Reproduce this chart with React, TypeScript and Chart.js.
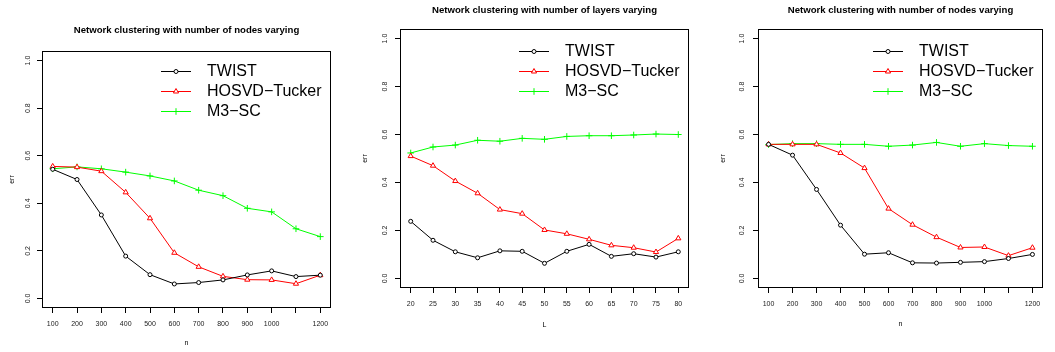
import React, { useEffect, useRef } from "react";
import { Chart, registerables } from "chart.js";

Chart.register(...registerables);

// ---------- data ----------
const nodesX = [100, 200, 300, 400, 500, 600, 700, 800, 900, 1000, 1100, 1200];
const nodesTickLabels = ["100", "200", "300", "400", "500", "600", "700", "800", "900", "1000", "", "1200"];
const layersX = [20, 25, 30, 35, 40, 45, 50, 55, 60, 65, 70, 75, 80];
const layersTickLabels = ["20", "25", "30", "35", "40", "45", "50", "55", "60", "65", "70", "75", "80"];
const yTicks = [0, 0.2, 0.4, 0.6, 0.8, 1.0];

const seriesNames = ["TWIST", "HOSVD\u2212Tucker", "M3\u2212SC"];

// Panel 1: number of nodes varying
const p1Twist = [0.543, 0.5, 0.351, 0.178, 0.1, 0.061, 0.067, 0.078, 0.099, 0.116, 0.092, 0.098];
const p1Hosvd = [0.555, 0.552, 0.535, 0.446, 0.337, 0.192, 0.133, 0.093, 0.079, 0.078, 0.062, 0.098];
const p1M3sc = [0.545, 0.553, 0.545, 0.531, 0.515, 0.494, 0.455, 0.432, 0.379, 0.364, 0.293, 0.26];

// Panel 2: number of layers varying
const p2Twist = [0.238, 0.159, 0.111, 0.086, 0.115, 0.113, 0.063, 0.113, 0.142, 0.092, 0.103, 0.089, 0.111];
const p2Hosvd = [0.51, 0.47, 0.406, 0.355, 0.287, 0.27, 0.202, 0.186, 0.163, 0.138, 0.128, 0.11, 0.167];
const p2M3sc = [0.523, 0.548, 0.556, 0.576, 0.572, 0.584, 0.58, 0.592, 0.595, 0.595, 0.598, 0.602, 0.6];

// Panel 3: number of nodes varying
const p3Twist = [0.559, 0.514, 0.371, 0.222, 0.101, 0.107, 0.065, 0.064, 0.067, 0.07, 0.083, 0.1];
const p3Hosvd = [0.559, 0.559, 0.559, 0.523, 0.46, 0.291, 0.224, 0.172, 0.129, 0.131, 0.095, 0.128];
const p3M3sc = [0.558, 0.562, 0.562, 0.559, 0.559, 0.551, 0.556, 0.567, 0.551, 0.562, 0.554, 0.551];

// ---------- styles ----------
const seriesColors = ["#000000", "#ff0000", "#00ff00"];
const seriesPoints = ["circle", "triangle", "cross"];
const seriesRadii = [2, 3, 3.3];
const FONT = "'Liberation Sans', Arial, Helvetica, sans-serif";

function drawMarker(ctx: CanvasRenderingContext2D, style: string, x: number, y: number, r: number) {
  ctx.beginPath();
  if (style === "circle") {
    ctx.arc(x, y, r, 0, Math.PI * 2);
    ctx.fillStyle = "#fff";
    ctx.fill();
    ctx.stroke();
  } else if (style === "triangle") {
    let a = 0;
    ctx.moveTo(x + Math.sin(a) * r, y - Math.cos(a) * r);
    a += (2 * Math.PI) / 3;
    ctx.lineTo(x + Math.sin(a) * r, y - Math.cos(a) * r);
    a += (2 * Math.PI) / 3;
    ctx.lineTo(x + Math.sin(a) * r, y - Math.cos(a) * r);
    ctx.closePath();
    ctx.fillStyle = "#fff";
    ctx.fill();
    ctx.stroke();
  } else {
    ctx.moveTo(x, y - r);
    ctx.lineTo(x, y + r);
    ctx.moveTo(x - r, y);
    ctx.lineTo(x + r, y);
    ctx.stroke();
  }
}

const rBoxLegend = {
  id: "rBoxLegend",
  afterDraw(chart: any, _args: any, opts: any) {
    const { ctx, chartArea: a } = chart;
    ctx.save();
    ctx.strokeStyle = "#000";
    ctx.lineWidth = 1;
    const l = Math.round(a.left) + 0.5;
    const t = Math.round(a.top) + 0.5;
    const r = Math.round(a.right) - 0.5;
    const b = Math.round(a.bottom) - 0.5;
    ctx.strokeRect(l, t, r - l, b - t);

    chart.data.datasets.forEach((ds: any, i: number) => {
      const y = Math.round(a.top + opts.rowTop + i * opts.rowGap) + 0.5;
      const x0 = a.right - opts.lineFromRight;
      const x1 = x0 + opts.lineLen;
      ctx.strokeStyle = ds.borderColor;
      ctx.lineWidth = 1;
      ctx.beginPath();
      ctx.moveTo(x0, y);
      ctx.lineTo(x1, y);
      ctx.stroke();
      drawMarker(ctx, ds.pointStyle, (x0 + x1) / 2, y, ds.pointRadius);
      ctx.fillStyle = "#000";
      ctx.font = `16px ${FONT}`;
      ctx.textBaseline = "middle";
      ctx.textAlign = "left";
      ctx.fillText(ds.label, a.right - opts.textFromRight, y);
    });
    ctx.restore();
  },
};

type PanelProps = {
  left: number;
  width: number;
  height: number;
  boxLeft: number;
  boxRight: number;
  boxTop: number;
  boxBottom: number;
  titleCenterY: number;
  title: string;
  xLabel: string;
  xs: number[];
  xTickLabels: string[];
  values: number[][];
  yTickPad: number;
  yTitlePad: number;
  xTitlePad: number;
  xTickPad: number;
  legendRowTop: number;
};

function Panel(p: PanelProps) {
  const ref = useRef<HTMLCanvasElement | null>(null);
  useEffect(() => {
    if (!ref.current) return;
    const titleSize = 9.6;
    const titleLH = titleSize * 1.2;
    const t1 = p.titleCenterY - titleLH / 2;
    const t2 = p.boxTop - t1 - titleLH;
    const xMin = p.xs[0];
    const xMax = p.xs[p.xs.length - 1];
    const ext = (xMax - xMin) * 0.04;

    const chart = new Chart(ref.current, {
      type: "line",
      data: {
        datasets: p.values.map((vals, i) => ({
          label: seriesNames[i],
          data: vals.map((v, j) => ({ x: p.xs[j], y: v })),
          borderColor: seriesColors[i],
          backgroundColor: seriesColors[i],
          borderWidth: 1,
          pointStyle: seriesPoints[i] as any,
          pointRadius: seriesRadii[i],
          pointBorderWidth: 1,
          pointBorderColor: seriesColors[i],
          pointBackgroundColor: "#ffffff",
          tension: 0,
          fill: false,
        })),
      },
      options: {
        animation: false,
        responsive: false,
        maintainAspectRatio: false,
        layout: { padding: { left: 0, right: p.width - p.boxRight, top: 0, bottom: 0 } },
        plugins: {
          legend: { display: false },
          tooltip: { enabled: false },
          title: {
            display: true,
            text: p.title,
            fullSize: false,
            color: "#000",
            font: { family: FONT, size: titleSize, weight: "bold", lineHeight: 1.2 },
            padding: { top: t1, bottom: t2 },
          },
          rBoxLegend: {
            rowTop: p.legendRowTop,
            rowGap: 20,
            lineFromRight: 170,
            lineLen: 30,
            textFromRight: 124,
          },
        } as any,
        scales: {
          x: {
            type: "linear",
            min: xMin - ext,
            max: xMax + ext,
            afterBuildTicks: (s: any) => {
              s.ticks = p.xs.map((v) => ({ value: v }));
            },
            afterFit: (s: any) => {
              s.height = p.height - p.boxBottom;
            },
            ticks: {
              autoSkip: false,
              maxRotation: 0,
              minRotation: 0,
              padding: p.xTickPad,
              color: "#222",
              font: { family: FONT, size: 7 },
              callback: (_v: any, i: number) => p.xTickLabels[i],
            },
            grid: { display: true, drawOnChartArea: false, drawTicks: true, tickLength: 5, color: "#000", lineWidth: 1 },
            border: { display: false },
            title: {
              display: true,
              text: p.xLabel,
              color: "#000",
              font: { family: FONT, size: 7, lineHeight: 1 },
              padding: { top: 0, bottom: p.xTitlePad },
            },
          },
          y: {
            type: "linear",
            min: -0.04,
            max: 1.04,
            afterBuildTicks: (s: any) => {
              s.ticks = yTicks.map((v) => ({ value: v }));
            },
            afterFit: (s: any) => {
              s.width = p.boxLeft;
            },
            ticks: {
              autoSkip: false,
              minRotation: 90,
              maxRotation: 90,
              crossAlign: "center",
              padding: p.yTickPad,
              color: "#222",
              font: { family: FONT, size: 7 },
              callback: (v: any) => Number(v).toFixed(1),
            },
            grid: { display: true, drawOnChartArea: false, drawTicks: true, tickLength: 5, color: "#000", lineWidth: 1 },
            border: { display: false },
            title: {
              display: true,
              text: "err",
              color: "#000",
              font: { family: FONT, size: 7, lineHeight: 1 },
              padding: { top: p.yTitlePad, bottom: 0 },
            },
          },
        },
      } as any,
      plugins: [rBoxLegend as any],
    });
    return () => chart.destroy();
  }, []);

  return (
    <canvas
      ref={ref}
      width={p.width}
      height={p.height}
      style={{ position: "absolute", left: p.left, top: 0, width: p.width, height: p.height }}
    />
  );
}

export default function App() {
  const H = 352;
  return (
    <div style={{ position: "absolute", left: 0, top: 0, width: 1055, height: H, background: "#fff" }}>
      <Panel
        left={0}
        width={350}
        height={H}
        boxLeft={42}
        boxRight={331}
        boxTop={51}
        boxBottom={308}
        titleCenterY={30}
        title="Network clustering with number of nodes varying"
        xLabel="n"
        xs={nodesX}
        xTickLabels={nodesTickLabels}
        values={[p1Twist, p1Hosvd, p1M3sc]}
        yTickPad={3.8}
        yTitlePad={8.5}
        xTitlePad={5.5}
        xTickPad={7}
        legendRowTop={19.5}
      />
      <Panel
        left={350}
        width={352}
        height={H}
        boxLeft={50}
        boxRight={339}
        boxTop={29}
        boxBottom={288}
        titleCenterY={10}
        title="Network clustering with number of layers varying"
        xLabel="L"
        xs={layersX}
        xTickLabels={layersTickLabels}
        values={[p2Twist, p2Hosvd, p2M3sc]}
        yTickPad={5}
        yTitlePad={11.5}
        xTitlePad={23.5}
        xTickPad={6.5}
        legendRowTop={21.5}
      />
      <Panel
        left={702}
        width={353}
        height={H}
        boxLeft={56}
        boxRight={341}
        boxTop={29}
        boxBottom={288}
        titleCenterY={10}
        title="Network clustering with number of nodes varying"
        xLabel="n"
        xs={nodesX}
        xTickLabels={nodesTickLabels}
        values={[p3Twist, p3Hosvd, p3M3sc]}
        yTickPad={6.3}
        yTitlePad={17.8}
        xTitlePad={24.5}
        xTickPad={6.5}
        legendRowTop={21.5}
      />
    </div>
  );
}
